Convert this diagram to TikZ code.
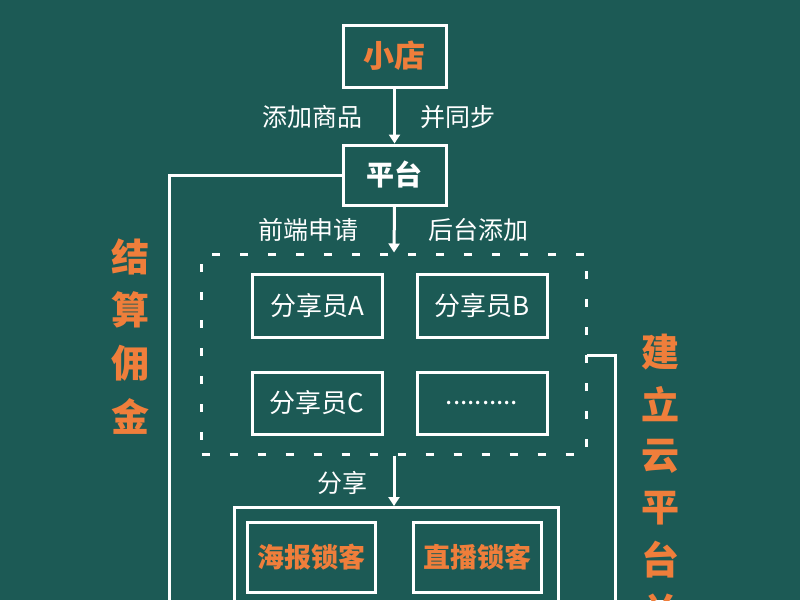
\documentclass[tikz,border=0pt]{standalone}
\usepackage{fontspec}
\setmainfont{Noto Sans CJK SC}
\usetikzlibrary{arrows.meta,positioning}
\definecolor{bg}{HTML}{1C5A55}
\definecolor{orng}{HTML}{EF7E3B}
\tikzset{
  box/.style={draw=white,line width=3pt,inner sep=0pt,font=\fontsize{26}{30}\selectfont,text=white},
  obox/.style={box,text=orng,font=\bfseries\fontsize{27}{30}\selectfont},
  lbl/.style={text=white,inner sep=0pt,font=\fontsize{25}{30}\selectfont},
  side/.style={text=orng,inner sep=0pt,font=\bfseries\fontsize{38}{40}\selectfont},
  wire/.style={draw=white,line width=3pt},
  arr/.style={wire,-{Triangle[width=11pt,length=9pt]}},
  dashbox/.style={draw=white,line width=3pt,dash pattern=on 8pt off 20pt,inner sep=0pt}
}
\begin{document}
\begin{tikzpicture}[x=1pt,y=-1pt]
\fill[bg] (0,0) rectangle (800,600);
\useasboundingbox (0,0) rectangle (800,600);
\node[obox,minimum width=103pt,minimum height=62pt,font=\bfseries\fontsize{31}{34}\selectfont] (xd) at (394.5,56) {小店};
\node[box,minimum width=103pt,minimum height=60pt,font=\bfseries\fontsize{28}{30}\selectfont] (pt) at (394.5,175) {平台};
\node[lbl] (l1) at (312,117) {添加商品};
\node[lbl] (l2) at (458,117) {并同步};
\node[lbl] (l3) at (308,230) {前端申请};
\node[lbl] (l4) at (478,230) {后台添加};
\node[dashbox,minimum width=385pt,minimum height=200pt] (db) at (394,354) {};
\node[box,minimum width=130pt,minimum height=63pt] (sa) at (317,305.5) {分享员A};
\node[box,minimum width=130pt,minimum height=63pt] (sb) at (482,305.5) {分享员B};
\node[box,minimum width=130pt,minimum height=62pt] (sc) at (317,403) {分享员C};
\node[box,minimum width=130pt,minimum height=62pt] (sd) at (482,403) {..........};
\node[lbl] (l5) at (342,483) {分享};
\node[draw=white,line width=3pt,minimum width=324pt,minimum height=140pt,inner sep=0pt] (ob) at (396,577.5) {};
\node[obox,minimum width=128pt,minimum height=70pt] (hb) at (311,557) {海报锁客};
\node[obox,minimum width=128pt,minimum height=70pt] (zb) at (477,557) {直播锁客};
\foreach \c [count=\i] in {结,算,佣,金}
  \node[side] (ls\i) at (130,204+53*\i) {\c};
\foreach \c [count=\i] in {建,立,云,平,台,关}
  \node[side] (rs\i) at (660,300+52*\i) {\c};
\coordinate (lb) at (169,640);
\coordinate (rt) at (586.5,355);
\coordinate (rb) at (615,640);
\draw[arr] (xd.south) -- (pt.north);
\draw[arr] (pt.south) -- (db.north);
\draw[arr] (db.south) -- (db.south |- ob.north);
\draw[wire] (pt.west) -| (lb);
\draw[wire] (rt) -| (rb);
\end{tikzpicture}
\end{document}
